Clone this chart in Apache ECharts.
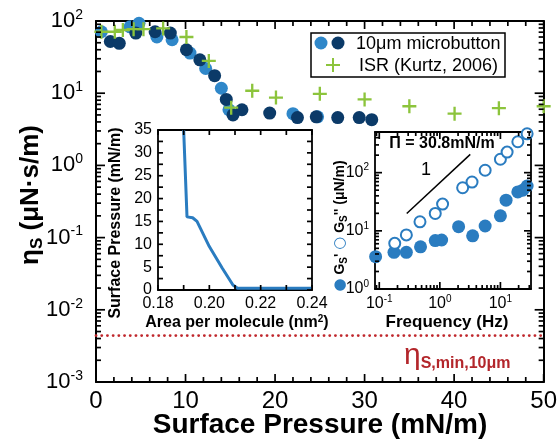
<!DOCTYPE html>
<html><head><meta charset="utf-8">
<script src="https://cdn.jsdelivr.net/npm/echarts@6/dist/echarts.min.js"></script>
<style>html,body{margin:0;padding:0;background:#fff}#c{width:560px;height:442px}</style>
</head><body><div id="c"></div>
<script>
// ---- main chart data: surface shear viscosity vs surface pressure ----
var lightPi  = [0.6, 3.8, 4.8, 6.8, 8.5, 10.5, 12.25, 14.0, 14.85, 22.0, 24.75];
var lightEta = [71, 83, 93, 60, 55, 36, 22, 11.7, 5.9, 5.2, 4.7];
var darkPi   = [1.6, 2.6, 4.45, 6.6, 8.3, 10.1, 11.6, 13.25, 14.55, 15.3, 16.3, 19.4, 22.5, 24.6, 27.0, 29.4, 30.8];
var darkEta  = [52, 49, 68, 71, 68, 40, 29, 17.5, 8.2, 5.0, 5.9, 5.3, 4.6, 4.7, 4.6, 4.6, 4.3];
var isrPi    = [0.6, 2.1, 3.0, 4.2, 5.3, 7.5, 10.1, 12.6, 15.1, 17.45, 20.1, 25.0, 30.0, 35.0, 40.05, 45.0, 50.0];
var isrEta   = [71, 71, 75, 77, 77, 79, 60, 28, 6.3, 10.8, 8.7, 9.8, 8.2, 6.6, 5.2, 6.2, 6.6];
var etaMin   = 0.0044;
var piRange  = [0, 50];
var etaRange = [0.001, 100];
// ---- inset 1: isotherm ----
var isoArea  = [0.1900, 0.1913, 0.1935, 0.1952, 0.2000, 0.2050, 0.2092, 0.2110, 0.2200, 0.2300, 0.2400];
var isoPi    = [35, 16.0, 15.8, 15.0, 9.5, 4.8, 1.1, 0.4, 0.4, 0.4, 0.4];
// ---- inset 2: frequency sweep at 30.8 mN/m ----
var freqStore = [0.087, 0.175, 0.28, 0.48, 0.84, 1.07, 2.04, 3.48, 5.6, 10, 12.4, 19.4, 23.4, 27.6];
var gStore    = [3.6, 4.27, 4.27, 5.3, 6.8, 6.95, 11.8, 8.2, 12.1, 18.1, 33.7, 46.7, 50, 59];
var freqLoss  = [0.18, 0.28, 0.47, 0.84, 1.11, 2.38, 3.4, 5.6, 10, 12.9, 19.4, 27.6];
var gLoss     = [6.1, 8.5, 14.3, 19.9, 28.8, 55, 69, 110, 170, 226, 340, 466];
var slopeFreq = [0.284, 3.18];
var slopeG    = [19.9, 206];

var FONT = "'Liberation Sans', Arial, Helvetica, sans-serif";
var LIGHT = '#2f87c9', DARK = '#0b3a68', GREEN = '#8cc43c', RED = '#c0282d', BLUE = '#2a7cc0';

function zip(a, b) { return a.map(function (v, i) { return [v, b[i]]; }); }
function powLabel(v) {
  var e = Math.log10(v);
  if (Math.abs(e - Math.round(e)) > 1e-6) return '';
  return '{b|10}{s|' + Math.round(e) + '}';
}
function logTicks(vmin, vmax) {
  var out = [];
  var lo = Math.floor(Math.log10(vmin)), hi = Math.ceil(Math.log10(vmax));
  for (var d = lo; d <= hi; d++) for (var k = 1; k <= 9; k++) {
    var v = k * Math.pow(10, d);
    if (v >= vmin * 0.9999 && v <= vmax * 1.0001) out.push([v, k === 1]);
  }
  return out;
}
function linTicks(vmin, vmax, step, majorEvery) {
  var out = [];
  for (var i = 0; vmin + i * step <= vmax + 1e-9; i++) out.push([vmin + i * step, i % majorEvery === 0]);
  return out;
}

function axLine(w) { return { show: true, onZero: false, lineStyle: { color: '#000', width: w } }; }
function mkAxis(o) {
  var base = { axisLine: axLine(o.lw || 1.8), axisTick: { show: false }, splitLine: { show: false }, minorTick: { show: false } };
  for (var k in o) base[k] = o[k];
  if (!base.axisLabel) base.axisLabel = { show: false };
  return base;
}
// hidden linear axes spanning the log-axes in decade units (used only to place ticks)
function hiddenAxis(g, r) {
  return { gridIndex: g, type: 'value', show: false, min: Math.log10(r[0]), max: Math.log10(r[1]),
           axisLine: { show: false, onZero: false }, axisTick: { show: false }, axisLabel: { show: false }, splitLine: { show: false } };
}

var IN2X = [0.085, 32], IN2Y = [1, 500];
var ISO_X = [0.18, 0.24], ISO_Y = [0, 35];
function rich(b, s) { return { b: { fontSize: b, fontFamily: FONT, lineHeight: b + 4 }, s: { fontSize: s, fontFamily: FONT, verticalAlign: 'top', lineHeight: s + 2 } }; }

var graphics = [
  { type: 'text', x: 31, y: 195, rotation: Math.PI / 2, z: 10,
    style: { text: '{a|η}{b|S}{a| (μN·s/m)}', align: 'center', verticalAlign: 'middle', fill: '#000',
      rich: { a: { fontSize: 26, fontWeight: 'bold', fontFamily: FONT, lineHeight: 30 },
              b: { fontSize: 17, fontWeight: 'bold', fontFamily: FONT, lineHeight: 14, verticalAlign: 'bottom' } } } },
  { type: 'text', x: 320, y: 425, z: 10,
    style: { text: 'Surface Pressure (mN/m)', align: 'center', verticalAlign: 'middle', fill: '#000', font: 'bold 28px ' + FONT } },
  { type: 'rect', shape: { x: 311, y: 33, width: 194, height: 44 }, z: 10, style: { fill: '#fff', stroke: '#000', lineWidth: 1.5 } },
  { type: 'circle', shape: { cx: 321, cy: 43, r: 6.5 }, z: 11, style: { fill: LIGHT } },
  { type: 'circle', shape: { cx: 338, cy: 43, r: 6.5 }, z: 11, style: { fill: DARK } },
  { type: 'text', x: 356, y: 44, z: 11, style: { text: '10μm microbutton', fill: '#000', font: '18px ' + FONT, verticalAlign: 'middle' } },
  { type: 'rect', shape: { x: 326, y: 64, width: 14, height: 2 }, z: 11, style: { fill: GREEN } },
  { type: 'rect', shape: { x: 332, y: 58, width: 2, height: 14 }, z: 11, style: { fill: GREEN } },
  { type: 'text', x: 359, y: 66, z: 11, style: { text: 'ISR (Kurtz, 2006)', fill: '#000', font: '18px ' + FONT, verticalAlign: 'middle' } },
  { type: 'text', x: 404, y: 356, z: 10,
    style: { text: '{a|η}{b|S,min,10μm}', verticalAlign: 'middle', fill: '#b3262b',
      rich: { a: { fontSize: 30, fontFamily: FONT, lineHeight: 32, fill: '#b3262b' },
              b: { fontSize: 16, fontWeight: 'bold', fontFamily: FONT, lineHeight: 14, verticalAlign: 'bottom', fill: '#b3262b' } } } },
  { type: 'text', x: 116, y: 223, rotation: Math.PI / 2, z: 10,
    style: { text: 'Surface Pressure (mN/m)', align: 'center', verticalAlign: 'middle', fill: '#000', font: 'bold 16px ' + FONT } },
  { type: 'text', x: 237, y: 323, z: 10,
    style: { text: '{a|Area per molecule (nm}{s|2}{a|)}', align: 'center', verticalAlign: 'middle', fill: '#000',
      rich: { a: { fontSize: 16, fontWeight: 'bold', fontFamily: FONT, lineHeight: 18 },
              s: { fontSize: 10, fontWeight: 'bold', fontFamily: FONT, lineHeight: 10, verticalAlign: 'top' } } } },
  { type: 'text', x: 340, y: 226, rotation: Math.PI / 2, z: 10,
    style: { text: "{c|●}{t| G}{s|S}{t|' }{c|○}{t| G}{s|S}{t|'' (μN/m)}", align: 'center', verticalAlign: 'middle', fill: '#000',
      rich: { t: { fontSize: 14, fontWeight: 'bold', fontFamily: FONT, lineHeight: 18 },
              s: { fontSize: 10, fontWeight: 'bold', fontFamily: FONT, lineHeight: 10, verticalAlign: 'bottom' },
              c: { fontSize: 15, fontFamily: 'DejaVu Sans', fill: BLUE, lineHeight: 18 } } } },
  { type: 'text', x: 447, y: 322, z: 10,
    style: { text: 'Frequency (Hz)', align: 'center', verticalAlign: 'middle', fill: '#000', font: 'bold 17px ' + FONT } },
  { type: 'text', x: 442, y: 144, z: 10,
    style: { text: 'Π = 30.8mN/m', align: 'center', verticalAlign: 'middle', fill: '#000', font: 'bold 16px ' + FONT } },
  { type: 'text', x: 426, y: 170, z: 10,
    style: { text: '1', align: 'center', verticalAlign: 'middle', fill: '#000', font: '18px ' + FONT } }
];

var option = {
  animation: false,
  backgroundColor: '#fff',
  textStyle: { fontFamily: FONT },
  grid: [
    { left: 96, top: 21, width: 449, height: 361 },
    { left: 158, top: 130, width: 154, height: 160 },
    { left: 375, top: 132, width: 156, height: 157 }
  ],
  xAxis: [
    mkAxis({ gridIndex: 0, type: 'value', min: piRange[0], max: piRange[1], interval: 10, lw: 2,
      axisLabel: { color: '#000', fontSize: 24, fontFamily: FONT, margin: 7 } }),
    mkAxis({ gridIndex: 1, type: 'value', min: ISO_X[0], max: ISO_X[1], interval: 0.02,
      axisLabel: { color: '#000', fontSize: 16, fontFamily: FONT, margin: 6, formatter: function (v) { return v.toFixed(2); } } }),
    mkAxis({ gridIndex: 2, type: 'log', logBase: 10, min: IN2X[0], max: IN2X[1], splitNumber: 3,
      axisLabel: { color: '#000', fontFamily: FONT, margin: 5, showMinLabel: false, showMaxLabel: false, formatter: powLabel, rich: rich(16, 10) } }),
    mkAxis({ gridIndex: 0, type: 'value', position: 'top', min: piRange[0], max: piRange[1], interval: 10, lw: 2 }),
    mkAxis({ gridIndex: 1, type: 'value', position: 'top', min: ISO_X[0], max: ISO_X[1], interval: 0.02 }),
    mkAxis({ gridIndex: 2, type: 'log', logBase: 10, position: 'top', min: IN2X[0], max: IN2X[1], splitNumber: 3 }),
    hiddenAxis(2, IN2X)
  ],
  yAxis: [
    mkAxis({ gridIndex: 0, type: 'log', logBase: 10, min: etaRange[0], max: etaRange[1], splitNumber: 5, lw: 2,
      axisLabel: { color: '#000', fontFamily: FONT, margin: 13, formatter: powLabel, rich: rich(22, 14) } }),
    mkAxis({ gridIndex: 1, type: 'value', min: ISO_Y[0], max: ISO_Y[1], interval: 5,
      axisLabel: { color: '#000', fontSize: 16, fontFamily: FONT, margin: 6 } }),
    mkAxis({ gridIndex: 2, type: 'log', logBase: 10, min: IN2Y[0], max: IN2Y[1], splitNumber: 3,
      axisLabel: { color: '#000', fontFamily: FONT, margin: 6, showMaxLabel: false, formatter: powLabel, rich: rich(16, 10) } }),
    mkAxis({ gridIndex: 0, type: 'log', logBase: 10, position: 'right', min: etaRange[0], max: etaRange[1], splitNumber: 5, lw: 2 }),
    mkAxis({ gridIndex: 1, type: 'value', position: 'right', min: ISO_Y[0], max: ISO_Y[1], interval: 5 }),
    mkAxis({ gridIndex: 2, type: 'log', logBase: 10, position: 'right', min: IN2Y[0], max: IN2Y[1], splitNumber: 3 }),
    hiddenAxis(0, etaRange),
    hiddenAxis(2, IN2Y)
  ],
  series: [
    { name: 'etaMin', type: 'line', xAxisIndex: 0, yAxisIndex: 0, data: [[piRange[0], etaMin], [piRange[1], etaMin]],
      showSymbol: false, symbol: 'none', lineStyle: { color: RED, width: 2.8, type: [0.1, 5.6], cap: 'round' }, z: 3 },
    { name: 'light', type: 'scatter', xAxisIndex: 0, yAxisIndex: 0, data: zip(lightPi, lightEta), symbolSize: 13,
      itemStyle: { color: LIGHT, opacity: 1 }, z: 4 },
    { name: 'dark', type: 'scatter', xAxisIndex: 0, yAxisIndex: 0, data: zip(darkPi, darkEta), symbolSize: 13,
      itemStyle: { color: DARK, opacity: 1 }, z: 5 },
    { name: 'ISR', type: 'scatter', xAxisIndex: 0, yAxisIndex: 0, data: zip(isrPi, isrEta), symbolSize: 14,
      symbol: 'path://M5,0h2v5h5v2h-5v5h-2v-5h-5v-2h5z', itemStyle: { color: GREEN, opacity: 1 }, z: 6, clip: false },
    { name: 'isotherm', type: 'line', xAxisIndex: 1, yAxisIndex: 1, data: zip(isoArea, isoPi), showSymbol: false, symbol: 'none',
      lineStyle: { color: BLUE, width: 3 }, z: 4 },
    { name: 'slope', type: 'line', xAxisIndex: 2, yAxisIndex: 2, data: zip(slopeFreq, slopeG), showSymbol: false, symbol: 'none',
      lineStyle: { color: '#000', width: 1.5 } },
    { name: "G'", type: 'scatter', xAxisIndex: 2, yAxisIndex: 2, data: zip(freqStore, gStore), symbolSize: 13,
      itemStyle: { color: BLUE, opacity: 1 }, clip: false },
    { name: "G''", type: 'scatter', xAxisIndex: 2, yAxisIndex: 2, data: zip(freqLoss, gLoss), symbolSize: 11,
      itemStyle: { color: '#fff', borderColor: BLUE, borderWidth: 2, opacity: 1 }, clip: false }
  ],
  graphic: graphics
};
var chart = echarts.init(document.getElementById('c'), null, { renderer: 'canvas' });
chart.setOption(option);

// inward ticks on all four sides, placed through each grid's linear axes (log axes via their decade-unit twins)
var ID = function (v) { return v; }, LG = function (v) { return Math.log10(v); };
function addTicks(xi, yi, dir, ticks, other, tf, of, majLen, minLen) {
  ticks.forEach(function (t) {
    var len = t[1] ? majLen : minLen;
    [0, 1].forEach(function (side) {
      var pt = dir === 'x' ? [tf(t[0]), of(other[side])] : [of(other[side]), tf(t[0])];
      var p = chart.convertToPixel({ xAxisIndex: xi, yAxisIndex: yi }, pt);
      if (!p || isNaN(p[0]) || isNaN(p[1])) return;
      var s = side === 0 ? 1 : -1;
      var shape = dir === 'x'
        ? { x1: p[0], y1: p[1], x2: p[0], y2: p[1] - s * len }
        : { x1: p[0], y1: p[1], x2: p[0] + s * len, y2: p[1] };
      graphics.push({ type: 'line', shape: shape, z: 9, silent: true, style: { stroke: '#000', lineWidth: 1.7 } });
    });
  });
}
addTicks(0, 6, 'x', linTicks(piRange[0], piRange[1], 2, 5), etaRange, ID, LG, 8, 5);
addTicks(0, 6, 'y', logTicks(etaRange[0], etaRange[1]), piRange, LG, ID, 9, 5);
addTicks(1, 1, 'x', linTicks(ISO_X[0], ISO_X[1], 0.01, 2), ISO_Y, ID, ID, 5, 5);
addTicks(1, 1, 'y', linTicks(ISO_Y[0], ISO_Y[1], 2.5, 2), ISO_X, ID, ID, 5, 5);
addTicks(6, 7, 'x', logTicks(IN2X[0], IN2X[1]), IN2Y, LG, LG, 7, 4);
addTicks(6, 7, 'y', logTicks(IN2Y[0], IN2Y[1]), IN2X, LG, LG, 7, 4);
chart.setOption({ graphic: graphics });
</script>
</body></html>
